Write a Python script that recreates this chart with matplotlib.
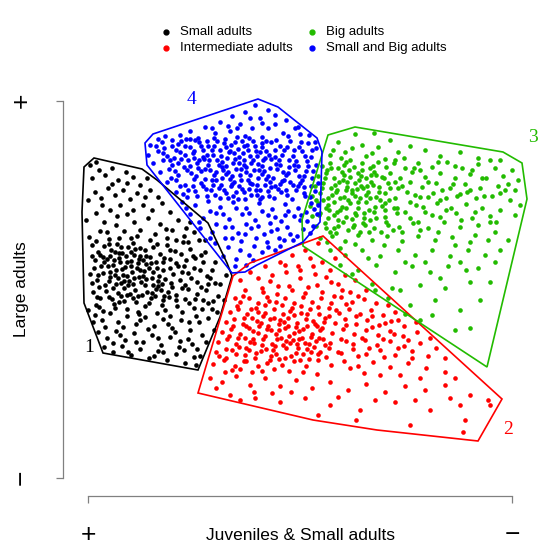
import numpy as np
import matplotlib
matplotlib.use('Agg')
import matplotlib.pyplot as plt
from matplotlib.patches import Polygon
from matplotlib.lines import Line2D

plt.rcParams['font.family'] = ['Liberation Sans', 'DejaVu Sans']

# Ordination scores (screen-like units, y grows downwards)
black_pts = [
    (90,165),(96,162),(99,170),(92,178),(105,175),(112,168),(118,180),(126,172),(133,177),(140,185),
    (147,178),(108,188),(95,192),(88,200),(101,198),(115,195),(123,190),(130,199),(137,193),(150,190),
    (158,197),(143,205),(120,205),(110,210),(96,213),(86,220),(104,222),(127,214),(134,222),(152,210),
    (162,203),(170,212),(148,218),(116,225),(160,224),(178,220),(186,228),(194,232),(172,230),(140,230),
    (124,231),(100,231),(89,237),(109,239),(131,238),
    (92,245),(98,252),(104,246),(111,250),(117,244),(122,253),(128,247),(134,255),(140,248),(146,256),
    (153,247),(160,254),(167,245),(175,251),(183,242),(190,249),(199,240),(205,252),(95,260),(101,266),
    (107,259),(113,265),(119,258),(125,267),(131,261),(137,268),(143,260),(149,268),(156,262),(163,270),
    (170,259),(178,266),(186,260),(194,268),(203,262),(212,270),(90,274),(97,280),(103,273),(109,281),
    (115,275),(121,283),(127,276),(133,284),(139,277),(145,285),(152,278),(158,286),(165,279),(172,287),
    (180,280),(188,289),(197,282),(206,290),(215,283),(93,292),(100,298),(106,291),(112,299),(118,293),
    (124,301),(130,294),(136,302),(142,295),(149,303),(155,296),(162,305),(169,297),(177,306),(185,299),
    (194,308),(203,300),(212,309),(218,296),
    (120,262),(126,256),(132,272),(138,263),(144,271),(150,257),(116,270),(110,256),(105,285),(135,290),
    (147,292),(153,272),(124,288),(129,281),(141,282),(159,276),(113,288),(118,278),(99,287),(94,268),
    (100,255),(108,266),(135,249),(157,268),(163,262),(173,274),(168,292),(182,272),(191,278),(146,264),
    (131,266),(123,275),(114,260),(140,256),(153,285),(127,295),(119,302),(161,290),(171,283),
    (95,315),(102,320),(110,313),(118,322),(127,316),(136,324),(145,317),(154,326),(163,319),(172,328),
    (181,320),(190,330),(199,322),(208,318),(214,330),(98,332),(107,338),(116,331),(125,340),(134,333),
    (143,342),(152,335),(161,345),(170,337),(179,347),(188,339),(197,349),(206,342),(200,356),(104,347),
    (113,352),(122,346),(131,355),(140,349),(149,358),(158,351),(167,360),(176,354),(185,363),(194,357),
    (196,365),(128,352),(154,356),(184,350),(93,322),(88,310),(120,335),(165,310),(202,335),(138,312),
    (210,278),(220,284),(224,300),(217,312),(226,275),(208,303),(197,294),(185,285),(215,262),(201,255),
    (193,256),(184,236),(176,240),(205,240),
    (96,241),(103,257),(109,244),(115,252),(121,247),(127,262),(133,243),(139,259),(145,250),(151,263),
    (157,244),(164,258),(170,250),(176,263),(181,254),(188,242),(195,258),(92,283),(98,275),(104,262),
    (110,277),(116,284),(122,269),(128,285),(134,278),(140,270),(146,279),(152,293),(158,281),(164,296),
    (170,268),(176,295),(182,288),(188,273),(195,299),(201,287),(207,276),(213,301),(96,305),(103,311),
    (109,297),(115,308),(121,296),(127,309),(133,298),(139,314),(145,306),(151,298),(157,313),(163,300),
    (170,316),(176,300),(182,312),(189,303),(196,316),(202,309),(107,232),(119,238),(137,236),(155,234),
    (167,238),(92,256),(99,307),(105,327),(123,327),(148,329),(158,338),(175,332),(189,322),(113,343),
    (136,342),(163,352),(180,341),(192,344),(102,205),(117,216),(133,210),(145,197),(112,184),(127,183),
    (166,229),(150,240),(190,222),(119,253),(131,252),(143,276),(156,289),(110,272),(124,281),(138,296),
    (162,284),(184,266),(200,270),(208,284),(114,304),(140,320),(168,324),(97,297),
]

red_pts = [
    (318,243),(305,250),(292,255),(310,258),(280,262),(265,266),(298,266),(322,262),(335,258),(250,272),
    (240,280),(258,278),(272,275),(286,272),(300,278),(315,274),(330,270),(345,275),(355,280),(338,284),
    (245,290),(262,288),(278,286),(292,290),(308,287),(322,292),(350,292),(366,290),(235,298),
    (240,302),(249,298),(258,303),(267,297),(276,302),(285,298),(294,303),(303,297),(312,302),(321,298),
    (331,303),(341,297),(352,302),(364,299),(376,303),(388,305),
    (230,312),(238,309),(247,314),(256,308),(265,313),(274,309),(283,314),(292,308),(301,313),(310,309),
    (319,314),(329,308),(339,313),(349,309),(360,314),(371,310),(383,315),(395,312),
    (226,322),(234,319),(243,324),(252,318),(261,323),(270,319),(279,324),(288,318),(297,323),(306,319),
    (315,324),(325,318),(335,323),(345,319),(356,324),(367,320),(379,325),(391,321),(404,326),(416,322),
    (222,332),(231,329),(240,334),(249,328),(258,333),(267,329),(276,334),(285,328),(294,333),(303,329),
    (312,334),(322,328),(332,333),(343,329),(354,334),(366,330),(378,335),(390,331),(403,336),(417,332),
    (430,338),
    (218,342),(227,339),(236,344),(245,338),(254,343),(263,339),(272,344),(281,338),(290,343),(299,339),
    (309,344),(319,338),(330,343),(341,339),(353,344),(365,340),(377,345),(390,341),(404,346),(420,343),
    (436,348),
    (216,352),(226,349),(236,354),(246,348),(256,353),(266,349),(276,354),(286,348),(296,353),(307,349),
    (318,354),(329,348),(341,353),(353,349),(366,354),(380,350),(395,355),(412,351),(428,356),(445,358),
    (213,364),(224,360),(235,366),(246,361),(258,366),(270,360),(282,365),(294,361),(306,366),(318,360),
    (331,365),(344,361),(358,366),(373,362),(390,367),(408,363),(426,368),(445,372),
    (244,318),(253,331),(262,345),(271,356),(280,320),(289,336),(298,348),(307,326),(316,341),(250,342),
    (268,326),(285,358),(302,338),(238,338),(258,312),(275,346),(294,315),(311,352),(325,345),(232,350),
    (265,305),(282,305),(320,330),(245,355),(300,360),
    (210,378),(222,382),(236,376),(250,385),(265,378),(280,386),(296,380),(312,388),(330,382),(348,390),
    (366,384),(385,392),(405,386),(425,390),(445,385),(470,395),(488,400),(230,395),(255,398),(280,402),
    (305,398),(330,405),(360,410),(395,402),(430,410),(465,420),(240,400),(318,415),(356,420),(410,425),
    (463,432),(490,405),(216,388),
    (237,306),(243,296),(251,309),(257,321),(263,316),(269,301),(274,318),(279,330),(284,322),(290,311),
    (296,327),(301,306),(307,314),(313,321),(318,307),(324,322),(329,316),(246,326),(253,339),(259,326),
    (265,336),(271,330),(277,339),(283,345),(288,326),(293,340),(299,331),(305,343),(311,337),(317,326),
    (323,339),(229,336),(233,326),(239,347),(244,361),(249,350),(255,358),(261,351),(267,363),(273,350),
    (279,359),(286,341),(291,356),(297,344),(303,354),(309,359),(314,347),(320,352),(326,357),(226,358),
    (232,370),(240,369),(252,372),(262,371),(274,369),(289,371),(303,372),(317,374),(336,310),(346,325),
    (356,316),(362,338),(372,327),(383,339),(394,334),(408,340),(346,341),(358,356),(369,348),(384,357),
    (398,348),(412,358),(338,352),(350,368),(364,373),(380,375),(400,375),(420,378),(334,296),(346,304),
    (358,296),(372,316),(385,323),(398,320),(263,292),(277,294),(289,286),(305,293),(317,285),(331,282),
    (342,290),(270,281),(285,265),(300,270),(313,266),(326,277),(219,356),(225,372),(254,392),(272,393),
    (291,392),(338,397),(375,400),(415,400),(450,398),(455,378),(460,405),
]

green_pts = [
    (355,134),(374,133),(338,142),(362,145),(390,140),(410,146),(345,152),(372,153),(398,152),(425,150),
    (440,156),(460,152),(478,158),(500,160),(350,160),(385,159),(330,155),
    (322,166),(330,163),(338,168),(346,162),(354,167),(362,163),(370,168),(378,162),(386,167),(394,163),
    (405,168),(418,163),(432,167),(447,162),(462,168),(478,164),(495,168),(512,170),
    (318,176),(326,173),(334,178),(342,172),(350,177),(358,173),(366,178),(374,172),(382,177),(390,173),
    (400,178),(412,172),(425,177),(440,173),(455,178),(470,174),(486,178),(503,176),
    (315,186),(323,183),(331,188),(339,182),(347,187),(355,183),(363,188),(371,182),(379,187),(388,183),
    (398,188),(410,182),(422,187),(436,183),(450,188),(465,184),(480,188),(498,186),(515,190),
    (312,196),(320,193),(328,198),(336,192),(344,197),(352,193),(360,198),(368,192),(376,197),(385,193),
    (395,198),(407,192),(420,197),(433,193),(446,198),(460,194),(476,198),(492,196),(510,200),
    (310,206),(318,203),(326,208),(334,202),(342,207),(350,203),(358,208),(366,202),(375,207),(385,203),
    (397,208),(410,202),(423,207),(437,203),(451,208),(466,204),(482,208),(500,210),
    (312,216),(320,213),(328,218),(337,212),(346,217),(355,213),(364,218),(374,212),(385,217),(397,213),
    (410,218),(425,212),(440,217),(456,213),(472,218),(490,216),
    (316,226),(325,223),(334,228),(343,222),(353,227),(363,223),(374,228),(386,222),(399,227),(413,223),
    (428,228),(444,222),(460,227),(478,225),(495,232),
    (320,238),(332,236),(345,241),(358,235),(372,240),(387,236),(402,241),(418,236),(435,240),(452,237),
    (470,242),(488,240),
    (327,170),(335,185),(344,175),(352,190),(359,180),(366,195),(373,185),(348,200),(340,210),(356,215),
    (332,195),(362,170),(380,200),(369,210),(344,165),(323,200),(390,188),(354,225),(338,220),(376,175),
    (385,210),(329,210),(361,186),(347,182),(370,220),
    (330,250),(345,255),(362,250),(380,256),(398,250),(415,255),(432,250),(450,256),(468,250),(485,255),
    (340,265),(358,270),(376,265),(395,272),(412,266),(430,272),(448,266),(466,270),(500,250),(352,274),
    (372,284),(392,288),(420,285),(445,288),(470,282),(388,298),(410,305),(435,300),(460,310),(470,328),
    (405,314),(420,320),(480,300),(455,330),(508,240),(515,215),(520,205),(505,190),(518,180),
    (325,178),(331,168),(337,190),(343,180),(349,170),(355,196),(361,176),(367,186),(373,166),(379,192),
    (384,178),(389,200),(395,182),(328,205),(334,215),(340,198),(346,208),(352,219),(358,202),(364,213),
    (370,198),(376,218),(382,206),(388,225),(394,208),(322,188),(316,200),(326,228),(336,233),(348,230),
    (360,232),(369,232),(381,232),(393,230),(333,150),(341,158),(352,148),(366,156),(378,147),(395,160),
    (404,158),(414,168),(402,186),(415,195),(428,182),(442,190),(457,196),(470,190),(484,196),(500,193),
    (405,212),(418,222),(432,215),(446,210),(461,220),(475,212),(490,222),(402,232),(420,230),(438,232),
    (455,245),(475,235),(496,222),(420,170),(438,162),(455,166),(472,170),(490,160),(508,184),(428,197),
    (416,205),(440,200),(453,184),(467,192),(482,178),(327,242),(340,248),(355,244),(368,258),(384,245),
    (405,262),(425,262),(440,278),(460,262),(478,268),(495,262),(375,290),(400,290),(432,315),(490,282),
    (346,190),(357,189),(371,175),(338,226),(365,225),(330,232),(319,215),
]

blue_pts = [
    (255,105),(268,110),(245,112),(232,116),(260,118),(275,115),(286,120),(220,122),(240,124),(252,128),
    (205,127),(190,131),(268,128),(295,128),(300,134),(180,135),(165,136),(215,133),(230,131),(283,133),
    (158,139),(245,136),(262,137),(198,138),
    (150,145),(162,142),(172,146),(181,141),(190,147),(199,142),(208,146),(217,141),(226,147),(235,142),
    (244,146),(253,141),(262,147),(271,142),(280,146),(290,141),(299,147),(308,143),(316,148),
    (148,155),(158,151),(167,156),(176,150),(185,155),(194,151),(203,157),(212,150),(221,156),(230,151),
    (239,157),(248,150),(257,156),(266,151),(275,157),(284,150),(293,156),(302,151),(311,157),
    (153,163),(163,160),(172,165),(181,159),(190,166),(199,160),(208,165),(217,160),(226,166),(235,159),
    (244,165),(253,160),(262,166),(271,159),(280,165),(289,160),(298,166),(307,161),(316,165),
    (160,172),(169,169),(178,175),(187,170),(196,176),(205,169),(214,175),(223,170),(232,176),(241,169),
    (250,175),(259,170),(268,176),(277,169),(286,175),(295,170),(304,176),(313,171),
    (167,182),(176,180),(185,185),(194,179),(203,186),(212,180),(221,185),(230,179),(239,186),(248,180),
    (257,185),(266,179),(275,186),(284,180),(293,185),(302,180),(311,186),
    (176,192),(188,190),(197,196),(206,189),(215,195),(224,190),(233,196),(242,189),(251,195),(260,190),
    (269,196),(278,189),(287,195),(296,190),(305,196),(315,191),
    (213,155),(219,165),(227,158),(236,169),(243,153),(251,163),(258,178),(265,158),(222,178),(231,186),
    (246,172),(255,146),(238,149),(224,143),(262,174),(270,168),(216,172),(209,160),(233,163),(249,189),
    (241,180),(205,179),(198,168),(188,160),(180,152),(275,150),(283,172),(290,182),(265,185),(228,198),
    (250,156),(234,153),(219,188),(203,150),(195,140),(257,195),(273,178),(211,190),(244,160),(260,152),
    (185,146),(194,158),(201,171),(226,174),(239,163),(247,145),(263,160),(271,187),(279,160),(287,147),
    (296,161),(304,187),(289,167),(178,163),(171,178),(183,194),(193,186),(214,146),(229,152),(254,170),
    (236,192),(260,199),(245,199),(222,162),(207,141),(266,141),(281,192),(299,176),(308,166),(174,158),
    (182,202),(195,205),(208,201),(220,207),(233,202),(246,208),(259,203),(272,209),(285,204),(298,208),
    (311,203),(190,214),(203,218),(216,213),(229,219),(242,214),(255,220),(268,215),(281,221),(294,216),
    (307,221),(317,214),(200,228),(212,232),(225,227),(238,233),(251,228),(264,234),(277,229),(290,234),
    (303,229),(313,226),(215,243),(228,247),(241,241),(254,246),(267,242),(280,246),(293,240),(223,256),
    (236,259),(249,255),(262,252),(275,250),(235,266),(246,265),(210,238),(199,222),(186,208),(256,238),
    (270,223),(287,227),(300,220),(246,224),(232,238),(279,238),
    (178,144),(186,139),(193,153),(201,146),(207,155),(214,138),(220,150),(225,139),(231,145),(237,137),
    (242,141),(249,138),(256,151),(262,143),(269,155),(276,140),(282,155),(288,136),(294,150),(301,142),
    (305,156),(312,150),(184,167),(191,173),(197,163),(204,159),(210,170),(216,180),(222,167),(228,172),
    (234,182),(240,175),(246,167),(252,184),(258,164),(264,171),(270,182),(276,164),(282,181),(288,173),
    (294,165),(300,183),(306,171),(312,178),(180,186),(187,197),(195,191),(201,183),(207,196),(213,185),
    (220,198),(226,193),(232,184),(238,199),(244,192),(250,183),(256,190),(262,197),(268,191),(274,198),
    (280,184),(286,190),(292,199),(298,186),(304,193),(310,197),(164,148),(170,160),(175,171),(156,146),
    (163,153),(210,211),(223,214),(236,208),(249,213),(262,211),(275,217),(288,211),(301,215),(314,209),
    (216,224),(232,227),(245,234),(258,226),(271,231),(284,240),(297,236),(225,238),(240,250),(268,247),
    (253,260),(298,127),(275,124),(250,118),(228,126),(212,128),(190,139),(172,140),(237,128),(262,123),
    (309,135),(315,142),(318,205),(306,212),(318,183),(310,233),(285,215),
]

# Convex hull outlines
black_hull = [(94,158),(84,167),(82,212),(84,303),(103,353),(198,370),(220,317),(232,276),
              (227,263),(208,223),(157,180),(142,169)]
red_hull = [(323,236),(250,263),(233,276),(198,393),(313,420),(377,430),(478,441),(502,399)]
green_hull = [(328,135),(355,127),(503,152),(522,163),(527,199),(487,367),(303,246),(302,220)]
blue_hull = [(153,134),(258,99),(278,107),(317,138),(322,152),(320,222),(303,242),(257,265),
             (245,272),(232,273),(147,165),(145,143)]

group_names = ['Small adults', 'Intermediate adults', 'Big adults', 'Small and Big adults']
group_ids = ['1', '2', '3', '4']
colors = ['black', '#FF0000', '#22BB00', '#0000FF']
id_pos = [(89, 348), (508, 429), (533, 138), (192, 100)]

points = [black_pts, red_pts, green_pts, blue_pts]
hulls = [black_hull, red_hull, green_hull, blue_hull]

fig = plt.figure(figsize=(5.6, 5.6), dpi=100)
ax = fig.add_axes([63/560, 64/560, 474/560, 414/560])
ax.set_xlim(63, 537)
ax.set_ylim(496, 82)

for pts, hull, col in zip(points, hulls, colors):
    p = np.array(pts)
    ax.scatter(p[:, 0], p[:, 1], s=11, color=col, linewidths=0, zorder=2)
for hull, col in zip(hulls, colors):
    ax.add_patch(Polygon(hull, closed=True, fill=False, edgecolor=col, lw=1.2, zorder=3))

for gid, (x, y), col in zip(group_ids, id_pos, colors):
    ax.text(x, y, gid, color=col, fontsize=14, family='Liberation Serif',
            ha='center', va='center', clip_on=False)

# R-style axes: only end ticks, labelled + / -
for s in ['top', 'right']:
    ax.spines[s].set_visible(False)
ax.spines['left'].set_bounds(100.7, 477.7)
ax.spines['bottom'].set_bounds(88, 512)
for s in ['left', 'bottom']:
    ax.spines[s].set_color('#808080')
    ax.spines[s].set_linewidth(0.9)
ax.set_xticks([88, 512])
ax.set_xticklabels(['+', '\u2212'])
ax.set_yticks([100.7, 477.7])
ax.set_yticklabels(['+', '\u2212'], rotation=90)
ax.tick_params(axis='both', direction='out', length=5, width=0.9, color='#808080',
               labelsize=19)
ax.tick_params(axis='x', pad=23)
ax.tick_params(axis='y', pad=25)
for lab in ax.get_xticklabels():
    lab.set_va('center')
for lab in ax.get_yticklabels():
    lab.set_ha('center')
    lab.set_va('center')

ax.set_xlabel('Juveniles & Small adults', fontsize=12.5, va='center')
ax.xaxis.set_label_coords(0.5, -(535 - 496) / 414)
ax.set_ylabel('Large adults', fontsize=12.5, va='center')
ax.yaxis.set_label_coords(-(63 - 22) / 474, (496 - 289) / 414)

# legend drawn in two columns above the plot
leg_x = [166, 312]
leg_y = [31.7, 48.3]
for i, (name, col) in enumerate(zip(group_names, colors)):
    cx, ry = leg_x[i // 2], leg_y[i % 2]
    ax.add_line(Line2D([cx], [ry], marker='o', markersize=3.5, color=col,
                       linestyle='none', clip_on=False))
    ax.text(cx + 14, ry, name, fontsize=9.5, ha='left', va='center', clip_on=False)

fig.savefig('out.png', dpi=100)
